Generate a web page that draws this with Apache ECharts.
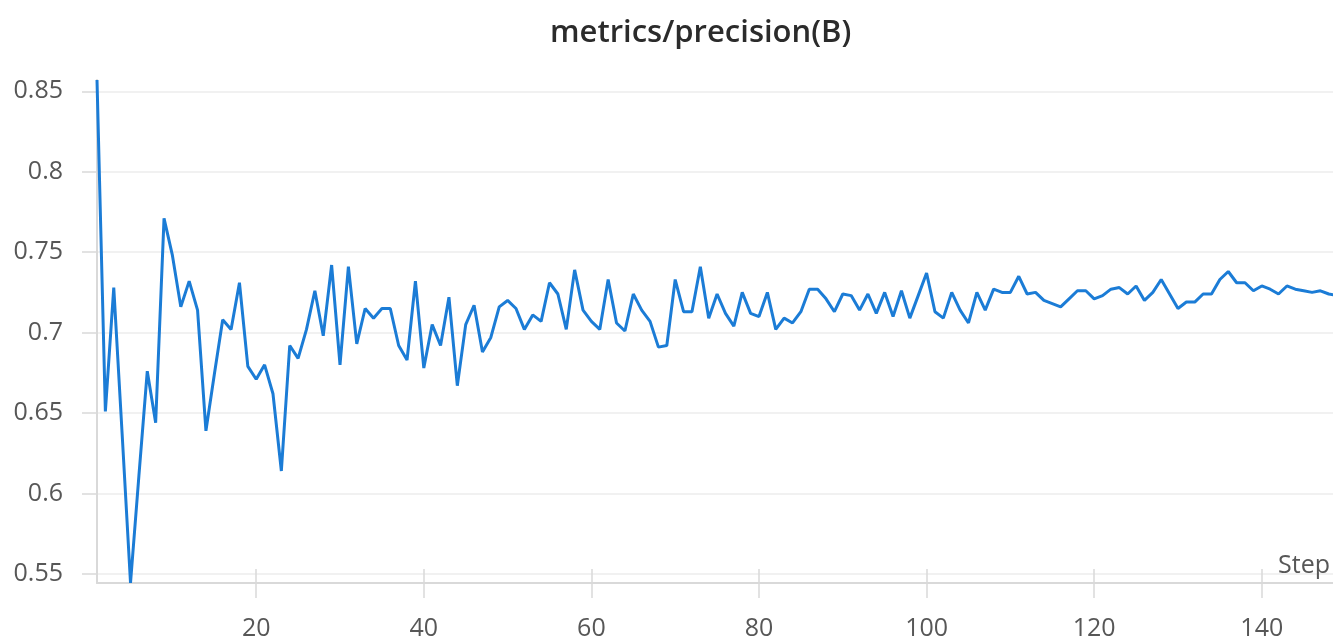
<!DOCTYPE html>
<html><head><meta charset="utf-8">
<script src="https://cdn.jsdelivr.net/npm/echarts@6/dist/echarts.min.js"></script>
<style>html,body{margin:0;padding:0;background:#fff}#c{width:1333px;height:644px}</style>
</head><body><div id="c"></div>
<script>
const title = 'metrics/precision(B)';
const xName = 'Step';
const steps = [1,2,3,4,5,6,7,8,9,10,11,12,13,14,15,16,17,18,19,20,
21,22,23,24,25,26,27,28,29,30,31,32,33,34,35,36,37,38,39,40,
41,42,43,44,45,46,47,48,49,50,51,52,53,54,55,56,57,58,59,60,
61,62,63,64,65,66,67,68,69,70,71,72,73,74,75,76,77,78,79,80,
81,82,83,84,85,86,87,88,89,90,91,92,93,94,95,96,97,98,99,100,
101,102,103,104,105,106,107,108,109,110,111,112,113,114,115,116,117,118,119,120,
121,122,123,124,125,126,127,128,129,130,131,132,133,134,135,136,137,138,139,140,
141,142,143,144,145,146,147,148,149];
const precision = [0.857,0.651,0.728,0.637,0.5444,0.611,0.676,0.644,0.771,0.748,
0.716,0.732,0.714,0.639,0.674,0.708,0.702,0.731,0.679,0.671,
0.680,0.662,0.614,0.692,0.684,0.702,0.726,0.698,0.742,0.680,
0.741,0.693,0.715,0.709,0.715,0.715,0.692,0.683,0.732,0.678,
0.705,0.692,0.722,0.667,0.705,0.717,0.688,0.697,0.716,0.720,
0.715,0.702,0.711,0.707,0.731,0.724,0.702,0.739,0.714,0.707,
0.702,0.733,0.706,0.701,0.724,0.714,0.707,0.691,0.692,0.733,
0.713,0.713,0.741,0.709,0.724,0.712,0.704,0.725,0.712,0.710,
0.725,0.702,0.709,0.706,0.713,0.727,0.727,0.721,0.713,0.724,
0.723,0.714,0.724,0.712,0.725,0.710,0.726,0.709,0.723,0.737,
0.713,0.709,0.725,0.714,0.706,0.725,0.714,0.727,0.725,0.725,
0.735,0.724,0.725,0.720,0.718,0.716,0.721,0.726,0.726,0.721,
0.723,0.727,0.728,0.724,0.729,0.720,0.725,0.733,0.724,0.715,
0.719,0.719,0.724,0.724,0.733,0.738,0.731,0.731,0.726,0.729,
0.727,0.724,0.729,0.727,0.726,0.725,0.726,0.724,0.723];
const yTicks = [0.55,0.6,0.65,0.7,0.75,0.8,0.85];
const xTicks = [20,40,60,80,100,120,140];

const chart = echarts.init(document.getElementById('c'), null, {renderer:'canvas'});
const font = "'Open Sans', 'Noto Sans', sans-serif";
const axisGray = '#d9d9d9';
const labelColor = '#575757';
const option = {
  animation: false,
  title: {text: title, left: 545, top: 13,
    textStyle: {fontFamily: font, fontSize: 31, fontWeight: 600, color: '#2b2b2b'}},
  grid: {left: 97, right: 0, top: 80, bottom: 61, containLabel: false},
  xAxis: [{
    type: 'value', min: 1, max: 148.5,
    name: xName, nameLocation: 'end', nameGap: 0,
    nameTextStyle: {fontFamily: font, fontSize: 25, color: labelColor, align: 'right', verticalAlign: 'bottom', padding: [0, 3, 5, 0]},
    axisLine: {show: true, lineStyle: {color: axisGray, width: 2}},
    axisTick: {show: true, length: 15, customValues: xTicks, lineStyle: {color: axisGray, width: 1.5}},
    axisLabel: {customValues: xTicks, margin: 33, fontSize: 25, color: labelColor, fontFamily: font},
    splitLine: {show: false}
  }, {
    type: 'value', min: 1, max: 148.5, position: 'bottom',
    axisLine: {show: false},
    axisTick: {show: true, inside: true, length: 14, customValues: xTicks, lineStyle: {color: axisGray, width: 1.5}},
    axisLabel: {show: false},
    splitLine: {show: false}
  }],
  yAxis: {
    type: 'value', min: 'dataMin', max: 'dataMax',
    axisLine: {show: true, lineStyle: {color: axisGray, width: 2}},
    axisTick: {show: true, length: 15, customValues: yTicks, lineStyle: {color: axisGray, width: 1.5}},
    axisLabel: {customValues: yTicks, margin: 34, fontSize: 25, color: labelColor, fontFamily: font},
    splitLine: {show: true, lineStyle: {color: '#ececec', width: 1.5}}
  },
  series: [{
    type: 'line', xAxisIndex: 0,
    data: steps.map((s, i) => [s, precision[i]]),
    showSymbol: false, clip: true,
    lineStyle: {color: '#1b7cd6', width: 3},
    itemStyle: {color: '#1b7cd6'}, z: 3
  }]
};
chart.setOption(option);
</script>
</body></html>
